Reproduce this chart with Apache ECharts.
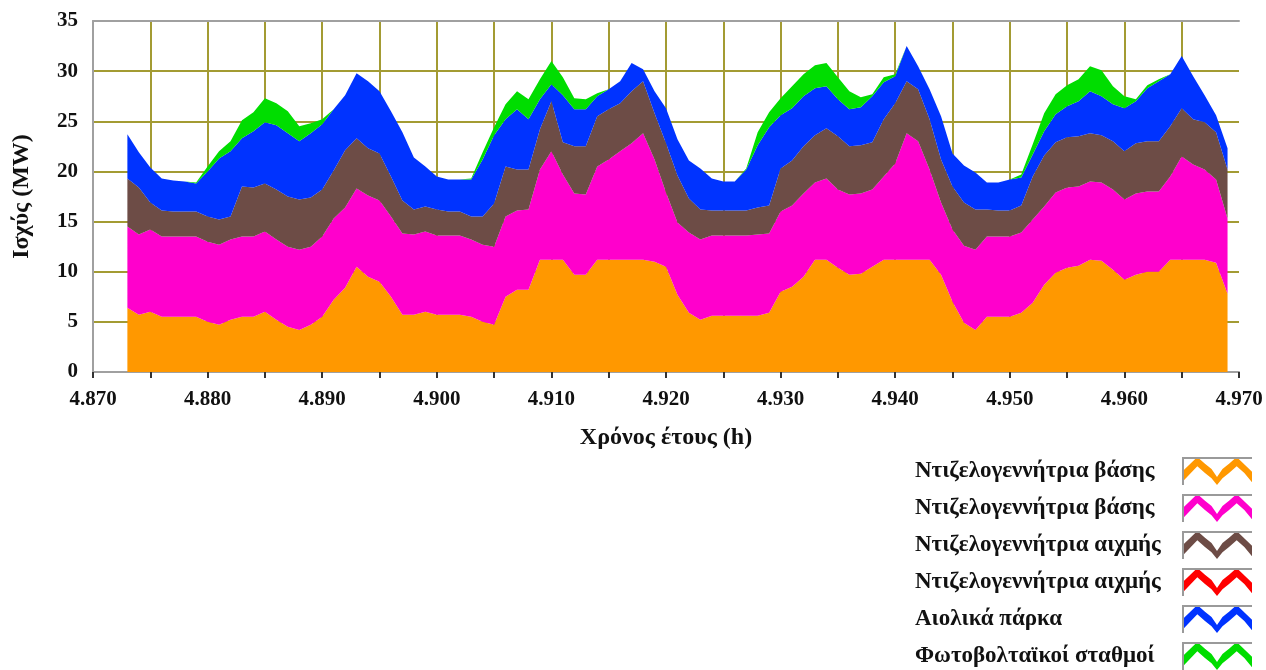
<!DOCTYPE html>
<html>
<head>
<meta charset="utf-8">
<script src="https://cdn.jsdelivr.net/npm/echarts@6/dist/echarts.min.js"></script>
<style>
html,body{margin:0;padding:0;background:#fff;}
#chart{width:1266px;height:670px;}
</style>
</head>
<body>
<div id="chart"></div>
<script>
// Axis hour categories (4.870 ... 4.970)
const axisHours = [
4870,4871,4872,4873,4874,4875,4876,4877,4878,4879,
4880,4881,4882,4883,4884,4885,4886,4887,4888,4889,
4890,4891,4892,4893,4894,4895,4896,4897,4898,4899,
4900,4901,4902,4903,4904,4905,4906,4907,4908,4909,
4910,4911,4912,4913,4914,4915,4916,4917,4918,4919,
4920,4921,4922,4923,4924,4925,4926,4927,4928,4929,
4930,4931,4932,4933,4934,4935,4936,4937,4938,4939,
4940,4941,4942,4943,4944,4945,4946,4947,4948,4949,
4950,4951,4952,4953,4954,4955,4956,4957,4958,4959,
4960,4961,4962,4963,4964,4965,4966,4967,4968,4969,
4970];

// Hours of the year with data
const hours = [
4873,4874,4875,4876,4877,4878,4879,4880,4881,4882,
4883,4884,4885,4886,4887,4888,4889,4890,4891,4892,
4893,4894,4895,4896,4897,4898,4899,4900,4901,4902,
4903,4904,4905,4906,4907,4908,4909,4910,4911,4912,
4913,4914,4915,4916,4917,4918,4919,4920,4921,4922,
4923,4924,4925,4926,4927,4928,4929,4930,4931,4932,
4933,4934,4935,4936,4937,4938,4939,4940,4941,4942,
4943,4944,4945,4946,4947,4948,4949,4950,4951,4952,
4953,4954,4955,4956,4957,4958,4959,4960,4961,4962,
4963,4964,4965,4966,4967,4968,4969];

// Base diesel generator 1 (orange), MW
const baseDiesel1 = [
6.4,5.7,6.0,5.5,5.5,5.5,5.5,5.0,4.7,5.2,
5.5,5.5,6.0,5.2,4.5,4.2,4.7,5.5,7.2,8.4,
10.5,9.5,9.0,7.5,5.7,5.7,6.0,5.7,5.7,5.7,
5.5,5.0,4.7,7.5,8.2,8.2,11.2,11.2,11.2,9.7,
9.7,11.2,11.2,11.2,11.2,11.2,11.0,10.5,7.7,5.9,
5.2,5.6,5.6,5.6,5.6,5.6,5.9,8.0,8.5,9.5,
11.2,11.2,10.4,9.7,9.8,10.5,11.2,11.2,11.2,11.2,
11.2,9.7,7.0,4.9,4.2,5.5,5.5,5.5,5.9,6.9,
8.7,9.9,10.4,10.6,11.2,11.1,10.2,9.2,9.7,10.0,
10.0,11.2,11.2,11.2,11.2,10.9,7.8];

// Base diesel generator 2 (magenta), MW
const baseDiesel2 = [
8.1,8.0,8.2,8.0,8.0,8.0,8.0,8.0,8.0,8.0,
8.0,8.0,8.0,8.0,8.0,8.0,7.8,8.0,8.1,8.0,
7.8,8.1,8.1,8.0,8.1,8.0,8.0,7.9,7.9,7.9,
7.7,7.7,7.8,8.0,7.9,8.0,9.0,10.8,8.5,8.1,
8.0,9.3,10.0,10.8,11.6,12.6,10.2,7.4,7.2,8.0,
8.0,8.0,8.0,8.0,8.0,8.1,7.9,8.0,8.1,8.3,
7.7,8.1,7.8,8.0,8.0,7.7,8.3,9.6,12.6,11.8,
9.0,7.2,7.2,7.7,8.0,8.0,8.0,8.0,8.0,8.3,
7.8,8.0,8.0,7.9,7.8,7.8,8.0,8.0,8.1,8.0,
8.0,8.3,10.3,9.5,9.0,8.3,7.5];

// Peak diesel generator 1 (brown), MW
const peakDiesel1 = [
4.8,4.7,2.7,2.6,2.5,2.5,2.5,2.5,2.5,2.3,
5.0,4.9,4.8,5.0,5.0,5.0,4.9,4.7,4.8,5.7,
5.0,4.7,4.7,4.0,3.3,2.5,2.5,2.6,2.4,2.4,
2.3,2.8,4.3,5.0,4.1,4.0,4.0,5.0,3.2,4.7,
4.8,5.0,5.0,4.8,5.2,5.2,4.6,4.9,4.7,3.4,
3.0,2.5,2.5,2.5,2.5,2.7,2.8,4.3,4.5,4.7,
4.7,5.0,5.3,4.8,4.8,4.7,5.7,6.0,5.2,5.2,
5.0,4.3,4.3,4.3,4.0,2.7,2.6,2.6,2.7,4.3,
5.1,5.0,5.0,5.0,4.8,4.7,4.8,4.8,5.0,5.0,
5.0,5.0,4.8,4.5,4.7,4.7,4.9];

// Peak diesel generator 2 (red), MW - not dispatched in this window
const peakDiesel2 = [
0,0,0,0,0,0,0,0,0,0,
0,0,0,0,0,0,0,0,0,0,
0,0,0,0,0,0,0,0,0,0,
0,0,0,0,0,0,0,0,0,0,
0,0,0,0,0,0,0,0,0,0,
0,0,0,0,0,0,0,0,0,0,
0,0,0,0,0,0,0,0,0,0,
0,0,0,0,0,0,0,0,0,0,
0,0,0,0,0,0,0,0,0,0,
0,0,0,0,0,0,0];

// Wind parks (blue), MW
const windParks = [
4.4,3.5,3.5,3.2,3.1,3.0,2.8,4.5,6.1,6.5,
4.8,5.6,6.1,6.4,6.3,5.8,6.4,6.5,6.1,5.5,
6.5,6.7,6.2,6.5,6.8,5.2,4.0,3.3,3.2,3.2,
3.7,5.7,6.8,4.7,6.0,5.0,3.0,1.7,4.7,3.7,
3.7,2.0,2.0,2.2,2.8,1.2,2.2,3.5,3.6,3.8,
4.1,3.2,2.9,2.9,4.1,6.2,7.8,5.3,5.2,5.0,
4.7,4.2,3.7,3.7,3.8,4.6,3.7,2.7,3.5,2.3,
3.0,4.3,3.3,3.7,3.7,2.7,2.8,3.1,2.8,2.2,
2.4,2.8,3.1,3.5,4.2,3.9,3.7,4.3,4.2,5.3,
6.0,5.2,5.2,4.3,2.7,1.7,2.1];

// Photovoltaic stations (green), MW
const pvStations = [
0,0,0,0,0,0,0.1,0.5,0.7,1.0,
1.8,1.9,2.4,2.2,2.2,1.5,1.0,0.5,0,0,
0,0,0,0,0,0,0,0,0,0,
0.1,0.7,0.8,1.5,1.8,2.0,2.0,2.3,1.8,1.1,
1.0,0.3,0,0,0,0,0,0,0,0,
0,0,0,0,0.1,1.3,1.5,1.7,2.2,2.2,
2.3,2.3,2.2,1.8,1.0,0.2,0.5,0.2,0,0,
0,0,0,0,0,0,0,0,0.3,1.0,
1.8,2.0,2.1,2.2,2.5,2.6,1.8,1.2,0.2,0.3,
0.2,0,0,0,0,0,0];

const seriesNames = [
  'Ντιζελογεννήτρια βάσης',
  'Ντιζελογεννήτρια βάσης\u200b',
  'Ντιζελογεννήτρια αιχμής',
  'Ντιζελογεννήτρια αιχμής\u200b',
  'Αιολικά πάρκα',
  'Φωτοβολταϊκοί σταθμοί'
];
const seriesColors = ['#FF9800','#FF00CC','#6D4C46','#FF0000','#0033FF','#00DD00'];
const seriesValues = [baseDiesel1, baseDiesel2, peakDiesel1, peakDiesel2, windParks, pvStations];

const yTicks = [0,5,10,15,20,25,30,35];
const xAxisTitle = 'Χρόνος έτους (h)';
const yAxisTitle = 'Ισχύς (MW)';

const FONT = '"Liberation Serif", "DejaVu Serif", serif';

const chart = echarts.init(document.getElementById('chart'), null, {renderer: 'canvas'});

const series = seriesValues.map((vals, k) => ({
  name: seriesNames[k],
  type: 'line',
  stack: 'total',
  xAxisIndex: 0,
  yAxisIndex: 0,
  data: hours.map((h, i) => [String(h), vals[i]]),
  showSymbol: false,
  symbol: 'none',
  smooth: false,
  lineStyle: {width: 0},
  areaStyle: {color: seriesColors[k], opacity: 1},
  itemStyle: {color: seriesColors[k]},
  z: 2,
  silent: true
}));

// legend geometry
const LEG_TOP = 457, LEG_RIGHT = 14, ICON_W = 70, ICON_H = 28, LEG_GAP = 9;
const iconLeft = 1266 - LEG_RIGHT - ICON_W;
const frames = seriesNames.map((n, k) => {
  const y = LEG_TOP + k * (ICON_H + LEG_GAP);
  return {
    type: 'polyline',
    silent: true,
    shape: {points: [[iconLeft + 1, y + ICON_H], [iconLeft + 1, y + 1], [iconLeft + ICON_W, y + 1]]},
    style: {stroke: '#9a9a9a', lineWidth: 2, fill: null},
    z: 100
  };
});

const isTen = v => (+v) % 10 === 0;
const isFive = v => (+v) % 5 === 0;

chart.setOption({
  animation: false,
  backgroundColor: '#ffffff',
  grid: {left: 93, right: 27, top: 21, bottom: 670 - 372, containLabel: false},
  xAxis: [{
    type: 'category',
    data: axisHours.map(String),
    boundaryGap: false,
    name: xAxisTitle,
    nameLocation: 'middle',
    nameGap: 54,
    nameTextStyle: {fontFamily: FONT, fontWeight: 'bold', fontSize: 24, color: '#111'},
    axisLine: {show: true, onZero: false, lineStyle: {color: '#a0a0a0', width: 2}},
    axisTick: {show: true, length: 6, interval: (i, v) => isFive(v), lineStyle: {color: '#333', width: 2}},
    axisLabel: {
      interval: (i, v) => isTen(v),
      margin: 17,
      fontFamily: FONT, fontWeight: 'bold', fontSize: 21, color: '#111',
      formatter: v => ((+v) / 1000).toFixed(3)
    },
    splitLine: {show: true, interval: (i, v) => isFive(v) && +v !== 4870 && +v !== 4970,
      lineStyle: {color: '#A39B33', width: 2}}
  }, {
    type: 'value',
    position: 'top',
    min: 4870, max: 4970,
    axisLine: {show: true, onZero: false, lineStyle: {color: '#a0a0a0', width: 2}},
    axisTick: {show: false},
    axisLabel: {show: false},
    splitLine: {show: false}
  }],
  yAxis: {
    type: 'value',
    min: 0, max: 35, interval: 5,
    name: yAxisTitle,
    nameLocation: 'middle',
    nameGap: 59,
    nameRotate: 90,
    nameTextStyle: {fontFamily: FONT, fontWeight: 'bold', fontSize: 24, color: '#111'},
    axisLine: {show: true, lineStyle: {color: '#a0a0a0', width: 2}},
    axisTick: {show: false},
    axisLabel: {
      margin: 15,
      fontFamily: FONT, fontWeight: 'bold', fontSize: 21, color: '#111',
      formatter: v => (yTicks.indexOf(v) >= 0 ? String(v) : '')
    },
    splitLine: {show: true, showMinLine: false, showMaxLine: false, lineStyle: {color: '#A39B33', width: 2}}
  },
  legend: {
    orient: 'vertical',
    right: LEG_RIGHT,
    top: LEG_TOP,
    height: 6 * ICON_H + 5 * LEG_GAP + 4,
    padding: 0,
    align: 'right',
    itemWidth: ICON_W,
    itemHeight: ICON_H,
    itemGap: LEG_GAP,
    symbolKeepAspect: false,
    selectedMode: false,
    icon: 'path://M3,16 L17,5 L24,10 L30,14 L35,20 L40,14 L46,10 L53,5 L67,16 L67,24 L60,17 L53,12 L46,17 L40,21 L35,26 L30,21 L24,17 L17,12 L10,18 L3,24 Z',
    itemStyle: {borderWidth: 0},
    formatter: n => '{t|' + n + '}',
    textStyle: {
      rich: {
        t: {width: 262, align: 'left', fontFamily: FONT, fontWeight: 'bold', fontSize: 23, color: '#111'}
      }
    },
    data: seriesNames.map((n, k) => ({name: n, itemStyle: {color: seriesColors[k], borderWidth: 0}}))
  },
  graphic: frames,
  series: series
});
</script>
</body>
</html>
